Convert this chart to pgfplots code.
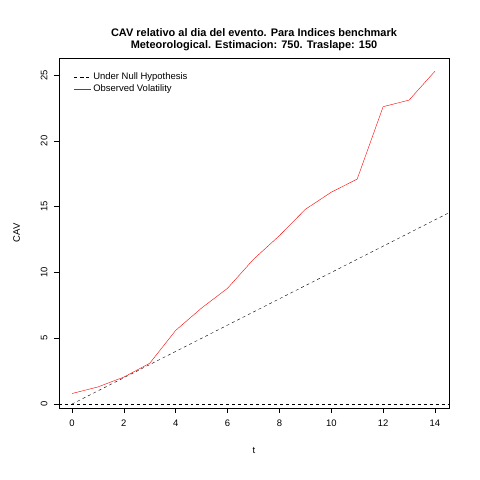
\documentclass[border=0pt]{standalone}
\usepackage{pgfplots}
\pgfplotsset{compat=1.18}
\usepackage{fontspec}
\setmainfont{Liberation Sans}
\begin{document}
\begin{tikzpicture}
\begin{axis}[at={(0,0)},anchor=south west,scale only axis,width=390bp,height=350bp,
 xmin=-0.5,xmax=14.54,ymin=-0.3,ymax=26.3,
 xtick={0,2,...,14},ytick={0,5,...,25},
 tick align=outside,xtick pos=bottom,ytick pos=left,
 tick style={black,thin},major tick length=5bp,
 /pgf/number format/assume math mode=true,
 tick label style={font=\fontsize{9.5}{10}\selectfont},
 xticklabel style={yshift=-3bp},
 yticklabel style={rotate=90,anchor=south,yshift=3bp},
 xlabel={t},ylabel={CAV},label style={font=\fontsize{9.5}{10}\selectfont},
 xlabel style={yshift=-14bp},ylabel style={yshift=14bp},
 title={\textbf{CAV relativo al dia del evento. Para Indices benchmark}\\\textbf{Meteorological. Estimacion: 750. Traslape: 150}},
 title style={align=center,font=\fontsize{11}{12}\selectfont,yshift=-2bp},
 legend pos=north west,legend style={draw=none,fill=none,font=\fontsize{9.5}{10}\selectfont},
 legend cell align=left]
\addplot[black,dashed,thin] coordinates {(0,0)(14.54,14.54)};
\addlegendentry{Under Null Hypothesis}
\addplot[red,thin] coordinates {(0,0.8)(1,1.3)(2,2.05)(3,3.1)(4,5.6)(5,7.3)(6,8.8)(7,11.0)(8,12.8)(9,14.8)(10,16.1)(11,17.1)(12,22.6)(13,23.1)(14,25.3)};
\addlegendentry{Observed Volatility}
\addplot[black,dashed,thin,forget plot] coordinates {(-0.5,0)(14.54,0)};
\end{axis}
\useasboundingbox (-59bp,-72bp) rectangle (421bp,408bp);
\end{tikzpicture}
\end{document}
